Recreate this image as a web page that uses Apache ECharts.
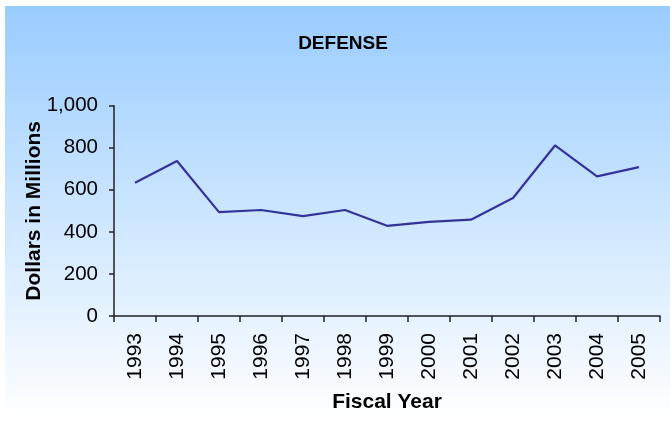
<!DOCTYPE html>
<html>
<head>
<meta charset="utf-8">
<script src="https://cdn.jsdelivr.net/npm/echarts@6/dist/echarts.min.js"></script>
<style>html,body{margin:0;padding:0;background:#fff}#c{width:670px;height:424px}</style>
</head>
<body>
<div id="c"></div>
<script>
const titleText = 'DEFENSE';
const years = ['1993','1994','1995','1996','1997','1998','1999','2000','2001','2002','2003','2004','2005'];
const defense = [634, 737, 494, 504, 475, 504, 429, 448, 458, 561, 811, 664, 708];
const yTicks = [0, 200, 400, 600, 800, 1000];
const xName = 'Fiscal Year';
const yName = 'Dollars in Millions';

const chart = echarts.init(document.getElementById('c'), null, {renderer: 'canvas'});
const font = 'Liberation Sans, Arial, sans-serif';
chart.setOption({
  animation: false,
  graphic: [{
    type: 'rect', z: -10, silent: true,
    shape: {x: 5, y: 6, width: 665, height: 411},
    style: {
      fill: new echarts.graphic.LinearGradient(0, 0, 0, 1, [
        {offset: 0, color: '#99CCFF'},
        {offset: 1, color: '#FFFFFF'}
      ])
    }
  }],
  title: {
    text: titleText, left: 343, top: 34, textAlign: 'center', padding: 0,
    textStyle: {fontFamily: font, fontWeight: 'bold', fontSize: 19, color: '#000'}
  },
  grid: {left: 114, right: 10, top: 105.7, bottom: 108, containLabel: false},
  xAxis: {
    type: 'category', data: years, boundaryGap: true,
    name: xName, nameLocation: 'middle', nameGap: 76, nameMoveOverlap: false,
    nameTextStyle: {fontFamily: font, fontWeight: 'bold', fontSize: 21, color: '#000'},
    axisLine: {lineStyle: {color: '#222', width: 1.5}},
    axisTick: {show: true, length: 6, alignWithLabel: false, lineStyle: {color: '#222', width: 1.5}},
    axisLabel: {rotate: 90, margin: 17, fontFamily: font, fontSize: 21, color: '#000', interval: 0},
    splitLine: {show: false}
  },
  yAxis: {
    type: 'value', min: yTicks[0], max: yTicks[yTicks.length - 1], interval: yTicks[1] - yTicks[0],
    name: yName, nameLocation: 'middle', nameGap: 69, nameMoveOverlap: false,
    nameTextStyle: {fontFamily: font, fontWeight: 'bold', fontSize: 21, color: '#000'},
    axisLine: {show: true, lineStyle: {color: '#222', width: 1.5}},
    axisTick: {show: true, length: 5, lineStyle: {color: '#222', width: 1.5}},
    axisLabel: {margin: 16, fontFamily: font, fontSize: 20.5, color: '#000',
      formatter: v => v.toLocaleString('en-US')},
    splitLine: {show: false}
  },
  series: [{
    type: 'line', data: defense, showSymbol: false, symbol: 'none',
    lineStyle: {color: '#333399', width: 2.2}
  }]
});
</script>
</body>
</html>
